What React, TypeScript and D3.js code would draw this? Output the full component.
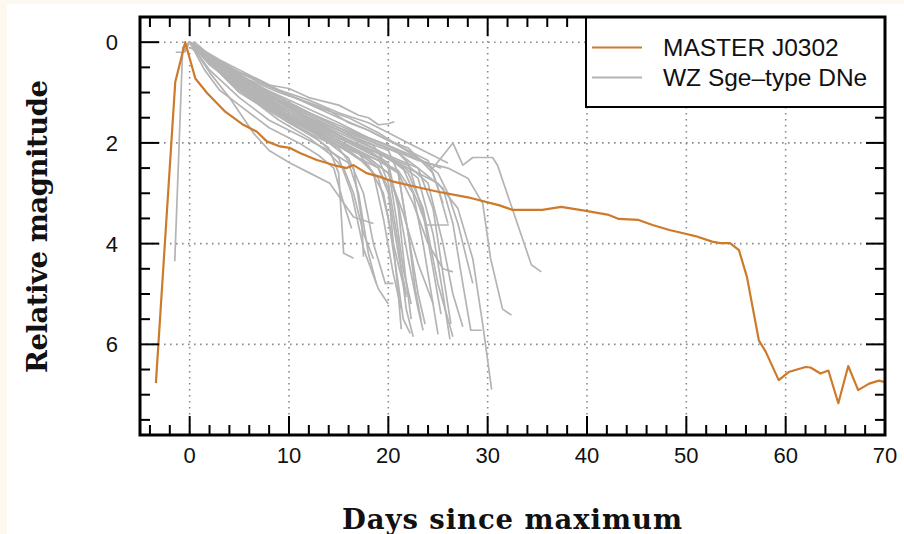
import React from "react";
import * as d3 from "d3";

const W = 904;
const H = 534;

// MASTER J0302 light curve [days since maximum, relative magnitude]
const masterDays = [-3.4, -1.45, -0.45, 0.57, 1.75, 3.58, 5.4, 6.77, 7.77, 9.1, 10.1, 11.1, 12.8, 14.5, 15.8, 16.5, 17.8, 19.1, 20.5, 22.5, 25, 28, 31.2, 32.5, 35.5, 37.4, 39.9, 42.2, 43.2, 45.2, 46.6, 48.3, 49.8, 50.9, 52.6, 53.4, 54.4, 55.3, 56.1, 57.3, 58.0, 59.3, 60.3, 62.0, 62.5, 63.5, 64.3, 65.3, 66.3, 67.3, 68.4, 69.4, 70];
const masterMags = [6.77, 0.79, 0.0, 0.72, 1.01, 1.38, 1.64, 1.78, 1.97, 2.07, 2.1, 2.2, 2.34, 2.44, 2.5, 2.44, 2.6, 2.67, 2.77, 2.86, 2.97, 3.08, 3.24, 3.33, 3.33, 3.27, 3.35, 3.43, 3.51, 3.53, 3.63, 3.73, 3.8, 3.85, 3.96, 3.99, 3.99, 4.13, 4.66, 5.92, 6.15, 6.71, 6.55, 6.45, 6.46, 6.58, 6.52, 7.17, 6.43, 6.91, 6.78, 6.72, 6.75];

// WZ Sge-type dwarf novae light curves [day, mag]
const wz01 = [[0,0],[2,0.3],[5,0.6],[7,0.75],[8,0.85],[10,0.92],[12,1.1],[14,1.2],[15,1.25],[17,1.45],[18,1.5],[19,1.64],[20,1.62],[20.6,1.58]];
const wz02 = [[0,0],[3,0.4],[6,0.75],[9,1.0],[12,1.2],[14,1.35],[16,1.6],[18,1.75],[20,1.95],[22,2.1],[23,2.3],[24.5,2.5],[26.5,2.0],[27.5,2.44],[28.5,2.29],[30.5,2.29],[31,2.45],[34.4,4.42],[35.4,4.56]];
const wz03 = [[0,0],[4,0.55],[8,1.0],[12,1.4],[16,1.8],[20,2.1],[23,2.35],[26,2.5],[28,2.7],[29.5,3.2],[30.3,4.3],[31.5,5.3],[32.4,5.42]];
const wz04 = [[0.5,0],[4,0.6],[8,1.05],[12,1.5],[16,1.95],[20,2.3],[23,2.6],[25,2.8],[27,3.3],[28.5,4.3],[29.5,5.6],[30.4,6.9]];
const wz05 = [[0,0],[5,0.75],[10,1.3],[15,1.8],[20,2.25],[23,2.5],[25.5,2.9],[26.5,3.6],[27.5,4.8],[28.3,5.72],[29.4,5.72]];
const wz06 = [[0,0],[5,0.8],[10,1.35],[15,1.9],[19,2.2],[22,2.45],[24,2.8],[25.5,4.0],[26.5,5.0],[27.5,5.65]];
const wz07 = [[0,0.1],[5,0.7],[10,1.25],[15,1.75],[19,2.15],[22,2.6],[23.5,3.3],[25,4.8],[26.5,5.85]];
const wz08 = [[0,0],[5,0.65],[10,1.2],[15,1.7],[20,2.05],[23,2.3],[25,2.6],[26,3.0],[27,3.6],[28.5,4.79]];
const wz09 = [[0,0],[5,0.85],[10,1.45],[15,2.0],[19,2.35],[21,2.6],[22.5,3.2],[24,4.0],[25.5,4.5],[26.5,4.56]];
const wz10 = [[0,0],[5,0.9],[10,1.5],[15,2.05],[18,2.3],[20,2.6],[21.5,3.4],[23,4.4],[24.5,5.19]];
const wz11 = [[0,0],[5,0.8],[10,1.4],[15,1.95],[18,2.3],[20,2.6],[21,3.2],[22,4.3],[23,5.3],[23.5,5.72]];
const wz12 = [[0,0],[4,0.7],[8,1.2],[12,1.6],[16,2.0],[19,2.3],[20,2.8],[21,4.0],[21.8,5.3],[22.5,5.85]];
const wz13 = [[0.3,0],[5,0.95],[10,1.55],[14,1.95],[17,2.3],[19,2.7],[20,3.5],[21,4.8],[21.5,5.5],[22.2,5.78]];
const wz14 = [[0,0],[5,1.0],[10,1.6],[14,2.0],[16,2.3],[17.5,3.0],[18.5,4.0],[19.7,4.79],[20.5,4.79]];
const wz15 = [[0,0],[5,0.75],[10,1.3],[15,1.85],[19,2.3],[21,2.6],[22,3.8],[22.7,4.9],[23.3,5.52]];
const wz16 = [[0,0],[5,0.9],[10,1.5],[15,2.05],[18,2.45],[19.5,3.0],[20.5,4.0],[21.8,5.06]];
const wz17 = [[0,0],[4,0.8],[8,1.35],[12,1.8],[14,2.1],[15,2.6],[15.5,4.19],[16.5,4.29]];
const wz18 = [[0,0],[4,0.75],[8,1.3],[12,1.75],[15,2.1],[16.5,2.5],[17.3,3.5],[17.5,4.26]];
const wz19 = [[0,0],[2,0.6],[4,1.1],[6.4,1.8],[8,2.15],[10.1,2.4],[12.1,2.6],[14.1,2.8],[16.5,3.47],[18.5,3.6]];
const wz20 = [[0,0],[5,0.95],[10,1.6],[13,1.95],[15,2.3],[16.3,3.0],[17.5,4.1],[19,4.9],[20,5.2]];
const wz21 = [[0,0],[5,0.7],[10,1.15],[15,1.6],[18,1.9],[20,2.05],[22,2.25],[24,2.4],[25.3,2.5]];
const wz22 = [[0,0],[5,0.6],[10,1.05],[15,1.5],[18,1.75],[20,1.95],[22,2.15],[24,2.35],[25,2.9],[26,3.6]];
const wz23 = [[0,0],[5,0.8],[10,1.35],[15,1.85],[19,2.2],[21.5,2.5],[23,3.2],[23.8,3.63],[26.1,3.63]];
const wz24 = [[0,0],[3,0.5],[6,0.9],[9,1.2],[12,1.5],[15,1.75],[18,2.0],[20,2.15],[21,2.6],[22,3.8],[23,5.0],[23.7,5.6]];
const wz25 = [[0,0],[3,0.55],[6,0.95],[9,1.3],[12,1.6],[15,1.9],[18,2.15],[20,2.4],[21,3.3],[21.7,4.6],[22.3,5.5]];
const wz26 = [[0,0],[3,0.45],[6,0.8],[9,1.1],[12,1.4],[15,1.65],[18,1.9],[20.5,2.1],[22,2.4],[23.5,3.4],[24.5,4.5],[25.3,5.4]];
const wz27 = [[0,0],[3,0.6],[6,1.0],[9,1.35],[12,1.65],[15,1.95],[17,2.2],[18.5,2.6],[19.5,3.5],[20.5,4.6],[21.3,5.3]];
const wz28 = [[-0.5,0.2],[0,0],[3,0.5],[6,0.85],[9,1.15],[12,1.4],[15,1.7],[18,1.95],[21,2.2],[23,2.5],[24.5,3.3],[25.5,4.6],[26.3,5.6]];
const wz29 = [[0,0],[3,0.35],[6,0.65],[9,0.95],[12,1.15],[15,1.4],[18,1.6],[20,1.8],[22,2.0],[24,2.2],[26,2.4]];
const wz30 = [[0,0],[2,0.45],[5,0.9],[8,1.3],[11,1.6],[14,1.9],[17,2.2],[19,2.5],[20,3.0],[21,4.2],[21.8,5.0]];
const wz31 = [[0,0],[2,0.4],[5,0.85],[8,1.25],[11,1.55],[14,1.85],[17,2.15],[19,2.35],[21,2.55],[22.5,3.0],[23.5,4.0],[24.5,5.2],[25,5.8]];
const wz32 = [[0,0],[4,0.7],[8,1.15],[12,1.55],[16,1.95],[19,2.2],[21,2.4],[23,2.7],[24.5,3.8],[25.5,5.0],[26.2,5.9]];
const wz33 = [[0,0],[4,0.6],[8,1.05],[12,1.45],[16,1.85],[18.5,2.05],[20,2.5],[20.8,3.5],[21.5,4.5],[22.3,5.2]];
const wz34 = [[-1.5,4.35],[-0.7,0.1],[0,0],[2,0.55],[5,1.1],[8,1.55],[11,1.85],[14,2.15],[16,2.4],[17,3.0],[18,4.2],[18.8,4.8]];
const wz35 = [[-1.4,0.2],[-0.6,0.2],[0,0],[3,0.6],[6,1.0],[9,1.35],[12,1.7],[15,2.0],[17,2.3],[19,2.5],[20,2.9],[20.5,4.0],[21,5.0],[21.3,5.7]];
const wz36 = [[0,0],[5,0.95],[9,1.55],[12,1.9],[14,2.2],[15.5,2.5],[16.5,3.0],[17.5,3.8],[18.5,4.3]];
const wz37 = [[0,0],[1.5,0.55],[3,0.95],[5,1.25],[8,1.7],[11,2.0],[13,2.25],[14.5,2.5],[15.5,3.2],[16.3,3.7]];
const wz38 = [[0,0],[2,0.25],[4,0.5],[7,0.8],[10,1.05],[13,1.3],[16,1.5],[19,1.8],[21,2.05],[23,2.3],[24.5,2.6],[25.5,3.2]];
const wzCurves = [wz01, wz02, wz03, wz04, wz05, wz06, wz07, wz08, wz09, wz10, wz11, wz12, wz13, wz14, wz15, wz16, wz17, wz18, wz19, wz20, wz21, wz22, wz23, wz24, wz25, wz26, wz27, wz28, wz29, wz30, wz31, wz32, wz33, wz34, wz35, wz36, wz37, wz38];

const xMajorTicks = [0, 10, 20, 30, 40, 50, 60, 70];
const xMinorTicks = [-4, -2, 2, 4, 6, 8, 12, 14, 16, 18, 22, 24, 26, 28, 32, 34, 36, 38, 42, 44, 46, 48, 52, 54, 56, 58, 62, 64, 66, 68];
const yMajorTicks = [0, 2, 4, 6];
const yMinorTicks = [0.5, 1, 1.5, 2.5, 3, 3.5, 4.5, 5, 5.5, 6.5, 7, 7.5];
const legendLabels = ["MASTER J0302", "WZ Sge\u2013type DNe"];
const xTitle = "Days since maximum";
const yTitle = "Relative magnitude";

const ORANGE = "#cd7a2a";
const GREY = "#b4b4b4";

export default function App() {
  const x = d3.scaleLinear().domain([-5, 70]).range([140, 885]);
  const y = d3.scaleLinear().domain([-0.5, 7.8]).range([17, 435]);
  const line = d3
    .line<number[]>()
    .x((d) => x(d[0]))
    .y((d) => y(d[1]));
  const masterPts = masterDays.map((d, i) => [d, masterMags[i]]);

  const [x0, x1] = x.range();
  const [y0, y1] = y.range();
  const tickLabelFont = "'Liberation Sans', Arial, Helvetica, sans-serif";
  const titleFont = "'DejaVu Serif', 'Liberation Serif', serif";

  return (
    <svg
      width={W}
      height={H}
      style={{ position: "absolute", left: 0, top: 0, display: "block" }}
    >
      <rect x={0} y={0} width={W} height={H} fill="#fdf9f1" />
      <rect x={7} y={4} width={W - 7} height={H - 4} fill="#ffffff" />

      <defs>
        <clipPath id="plotclip">
          <rect x={x0} y={y0} width={x1 - x0} height={y1 - y0} />
        </clipPath>
      </defs>

      {/* grid */}
      <g stroke="#8a8a8a" strokeWidth={1.6} strokeDasharray="1.6,4.4">
        {xMajorTicks.filter((t) => t < 70).map((t) => (
          <line key={"gx" + t} x1={x(t)} x2={x(t)} y1={y0} y2={y1} />
        ))}
        {yMajorTicks.map((t) => (
          <line key={"gy" + t} x1={x0} x2={x1} y1={y(t)} y2={y(t)} />
        ))}
      </g>

      {/* curves */}
      <g clipPath="url(#plotclip)" fill="none">
        {wzCurves.map((c, i) => (
          <path key={"wz" + i} d={line(c) || ""} stroke={GREY} strokeWidth={1.7} strokeLinejoin="round" />
        ))}
        <path d={line(masterPts) || ""} stroke={ORANGE} strokeWidth={2.2} strokeLinejoin="round" />
      </g>

      {/* ticks */}
      <g stroke="#000" strokeWidth={2}>
        {xMajorTicks.map((t) => (
          <g key={"xt" + t}>
            <line x1={x(t)} x2={x(t)} y1={y1} y2={y1 - 19} />
            <line x1={x(t)} x2={x(t)} y1={y0} y2={y0 + 19} />
          </g>
        ))}
        {xMinorTicks.map((t) => (
          <g key={"xm" + t}>
            <line x1={x(t)} x2={x(t)} y1={y1} y2={y1 - 10} />
            <line x1={x(t)} x2={x(t)} y1={y0} y2={y0 + 10} />
          </g>
        ))}
        {yMajorTicks.map((t) => (
          <g key={"yt" + t}>
            <line x1={x0} x2={x0 + 19} y1={y(t)} y2={y(t)} />
            <line x1={x1} x2={x1 - 19} y1={y(t)} y2={y(t)} />
          </g>
        ))}
        {yMinorTicks.map((t) => (
          <g key={"ym" + t}>
            <line x1={x0} x2={x0 + 10} y1={y(t)} y2={y(t)} />
            <line x1={x1} x2={x1 - 10} y1={y(t)} y2={y(t)} />
          </g>
        ))}
      </g>

      {/* legend */}
      <g>
        <rect x={586} y={y0} width={x1 - 586} height={90} fill="#fff" stroke="#000" strokeWidth={2} />
        <line x1={592} x2={642} y1={47.5} y2={47.5} stroke={ORANGE} strokeWidth={2} />
        <line x1={592} x2={642} y1={77.5} y2={77.5} stroke={GREY} strokeWidth={2} />
        <text x={663} y={56} fontFamily={tickLabelFont} fontSize={24.5} fill="#111">{legendLabels[0]}</text>
        <text x={663} y={86} fontFamily={tickLabelFont} fontSize={24.5} fill="#111">{legendLabels[1]}</text>
      </g>

      {/* frame */}
      <rect x={x0} y={y0} width={x1 - x0} height={y1 - y0} fill="none" stroke="#000" strokeWidth={3} />

      {/* tick labels */}
      <g fontFamily={tickLabelFont} fontSize={22} fill="#111">
        {xMajorTicks.map((t) => (
          <text key={"xl" + t} x={x(t)} y={463} textAnchor="middle">{t}</text>
        ))}
        {yMajorTicks.map((t) => (
          <text key={"yl" + t} x={118} y={y(t) + 8} textAnchor="end">{t}</text>
        ))}
      </g>

      {/* axis titles */}
      <text
        x={512}
        y={529}
        textAnchor="middle"
        fontFamily={titleFont}
        fontWeight="bold"
        fontSize={27.5}
        textLength={340}
        lengthAdjust="spacing"
        fill="#111"
      >
        {xTitle}
      </text>
      <text
        transform={`translate(47,226.5) rotate(-90)`}
        textAnchor="middle"
        fontFamily={titleFont}
        fontWeight="bold"
        fontSize={27.5}
        textLength={293}
        lengthAdjust="spacing"
        fill="#111"
      >
        {yTitle}
      </text>
    </svg>
  );
}
